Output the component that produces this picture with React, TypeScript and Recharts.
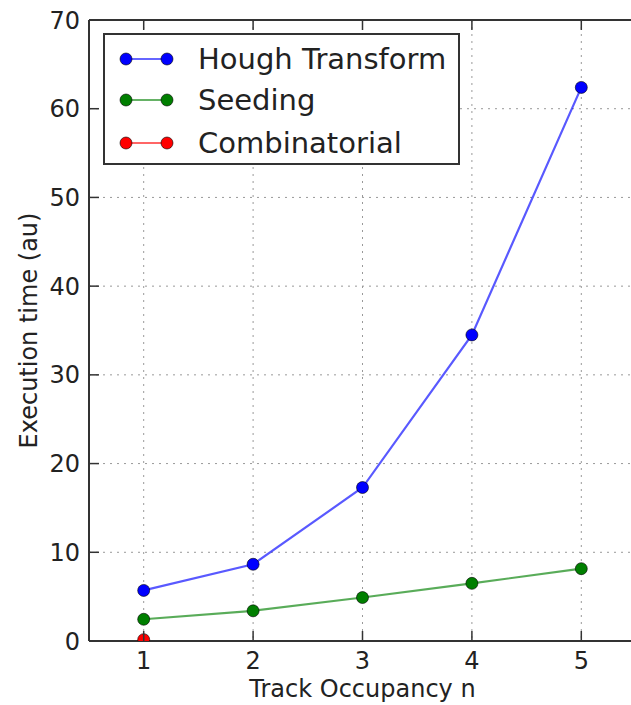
import React from 'react';
import { LineChart, Line, XAxis, YAxis, CartesianGrid, Legend } from 'recharts';

const occupancy = [1, 2, 3, 4, 5];
const houghTransform = [5.7, 8.65, 17.3, 34.5, 62.4];
const seeding = [2.45, 3.4, 4.9, 6.5, 8.15];
const combinatorial: (number | null)[] = [0.15, null, null, null, null];

const xTicks = [1, 2, 3, 4, 5];
const yTicks = [0, 10, 20, 30, 40, 50, 60, 70];

const seriesNames = ['Hough Transform', 'Seeding', 'Combinatorial'];
const markerColors = ['#0000ff', '#007f00', '#ff0000'];

const xLabel = 'Track Occupancy n';
const yLabel = 'Execution time (au)';

const data = occupancy.map((x, i) => ({
  x,
  hough: houghTransform[i],
  seeding: seeding[i],
  comb: combinatorial[i],
}));

const FONT = 'DejaVu Sans';
const TEXT = '#222';
const SPINE = '#333';
const TICK_LEN = 10;

const rowTops = [26, 67, 110];

const renderLegend = () => (
  <div
    style={{
      position: 'relative',
      boxSizing: 'border-box',
      width: 357,
      height: 132,
      border: '2px solid #333',
      background: '#fff',
      fontFamily: FONT,
      fontSize: 29,
      color: TEXT,
    }}
  >
    {seriesNames.map((name, i) => (
      <div
        key={name}
        style={{
          position: 'absolute',
          left: 0,
          top: rowTops[i] - 2 - 20,
          height: 40,
          display: 'flex',
          alignItems: 'center',
          whiteSpace: 'nowrap',
        }}
      >
        <svg width={93} height={40} style={{ display: 'block' }}>
          <line x1={21} y1={20} x2={62} y2={20} stroke={markerColors[i]} strokeOpacity={0.6} strokeWidth={2} />
          <circle cx={21} cy={20} r={6} fill={markerColors[i]} stroke="#000" strokeWidth={0.6} />
          <circle cx={62} cy={20} r={6} fill={markerColors[i]} stroke="#000" strokeWidth={0.6} />
        </svg>
        <span style={{ lineHeight: '40px' }}>{name}</span>
      </div>
    ))}
  </div>
);

const BOTTOM_GAP = 11;
const LEFT_GAP = 9;

const BottomTick = (props: any) => {
  const { x, y, payload } = props;
  const axisY = y - BOTTOM_GAP;
  return (
    <g>
      <line x1={x} x2={x} y1={axisY} y2={axisY - TICK_LEN} stroke={SPINE} strokeWidth={1.5} />
      <text x={x} y={y} dy="0.71em" textAnchor="middle" fontSize={24} fontFamily={FONT} fill={TEXT}>
        {payload.value}
      </text>
    </g>
  );
};

const TopTick = (props: any) => {
  const { x, y } = props;
  return <line x1={x} x2={x} y1={y} y2={y + TICK_LEN} stroke={SPINE} strokeWidth={1.5} />;
};

const LeftTick = (props: any) => {
  const { x, y, payload } = props;
  const axisX = x + LEFT_GAP;
  return (
    <g>
      <line x1={axisX} x2={axisX + TICK_LEN} y1={y} y2={y} stroke={SPINE} strokeWidth={1.5} />
      <text x={x} y={y} dy="0.355em" textAnchor="end" fontSize={24} fontFamily={FONT} fill={TEXT}>
        {payload.value}
      </text>
    </g>
  );
};

const axisLineStyle = { stroke: SPINE, strokeWidth: 2 };

export default function App() {
  return (
    <div style={{ position: 'absolute', left: 0, top: 0, width: 631, height: 705, overflow: 'hidden', background: '#fff' }}>
      <LineChart width={650} height={705} data={data} margin={{ top: 19, right: 14, left: 0, bottom: 0 }}>
        <CartesianGrid stroke="#999" strokeWidth={1} strokeDasharray="2 5" />
        <XAxis
          dataKey="x"
          type="number"
          domain={[0.5, 5.5]}
          ticks={xTicks}
          height={64}
          tickSize={0}
          tickMargin={BOTTOM_GAP}
          tickLine={false}
          tick={<BottomTick />}
          axisLine={axisLineStyle}
          label={{ value: xLabel, position: 'insideBottom', offset: 8, style: { fontSize: 24, fontFamily: FONT, fill: TEXT } }}
        />
        <XAxis
          xAxisId="top"
          orientation="top"
          dataKey="x"
          type="number"
          domain={[0.5, 5.5]}
          ticks={xTicks}
          height={1}
          tickSize={0}
          tickMargin={0}
          tickLine={false}
          tick={<TopTick />}
          axisLine={axisLineStyle}
        />
        <YAxis
          type="number"
          domain={[0, 70]}
          ticks={yTicks}
          width={89}
          allowDataOverflow
          tickSize={0}
          tickMargin={LEFT_GAP}
          tickLine={false}
          tick={<LeftTick />}
          axisLine={axisLineStyle}
          label={{
            value: yLabel,
            angle: -90,
            position: 'insideLeft',
            offset: 28,
            textAnchor: 'middle',
            style: { textAnchor: 'middle', fontSize: 24, fontFamily: FONT, fill: TEXT },
          }}
        />
        <Legend
          content={renderLegend}
          layout="vertical"
          align="center"
          verticalAlign="middle"
          width={357}
          height={132}
          wrapperStyle={{ left: 103, top: 33, width: 357, height: 132 }}
        />
        <Line
          name={seriesNames[0]}
          dataKey="hough"
          stroke={markerColors[0]}
          strokeOpacity={0.65}
          strokeWidth={2.2}
          dot={{ r: 6, fill: markerColors[0], stroke: '#000', strokeWidth: 0.6, strokeOpacity: 1 }}
          isAnimationActive={false}
        />
        <Line
          name={seriesNames[1]}
          dataKey="seeding"
          stroke={markerColors[1]}
          strokeOpacity={0.65}
          strokeWidth={2.2}
          dot={{ r: 6, fill: markerColors[1], stroke: '#000', strokeWidth: 0.6, strokeOpacity: 1 }}
          isAnimationActive={false}
        />
        <Line
          name={seriesNames[2]}
          dataKey="comb"
          stroke={markerColors[2]}
          strokeOpacity={0.65}
          strokeWidth={2.2}
          dot={{ r: 6, fill: markerColors[2], stroke: '#000', strokeWidth: 0.6, strokeOpacity: 1 }}
          isAnimationActive={false}
        />
      </LineChart>
    </div>
  );
}
